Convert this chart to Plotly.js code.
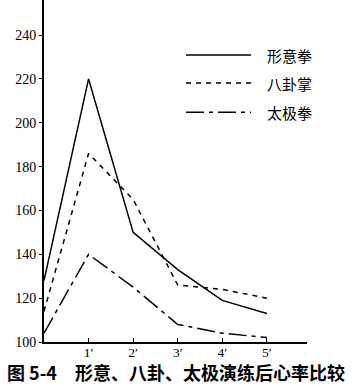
<!DOCTYPE html>
<html>
<head>
<meta charset="utf-8">
<script src="https://cdn.plot.ly/plotly-3.0.1.min.js"></script>
<style>html,body{margin:0;padding:0;background:#fff;}#chart{width:353px;height:387px;}</style>
</head>
<body>
<div id="chart"></div>
<script>
var minutes = [0, 1, 2, 3, 4, 5];
var tickLabels = ['1\u2032', '2\u2032', '3\u2032', '4\u2032', '5\u2032'];
var tickVals = [1, 2, 3, 4, 5];
var xingyi = [128, 220, 150, 133, 119, 113];
var bagua = [114, 186, 165, 126, 124, 120];
var taiji = [104, 140, 125, 108, 104, 102];
var seriesNames = ['形意拳', '八卦掌', '太极拳'];
var dashes = ['solid', '5px,5px', '18px,5px,4px,5px'];
var seriesData = [xingyi, bagua, taiji];

var traces = seriesData.map(function (vals, i) {
  return {
    x: minutes, y: vals, name: seriesNames[i], type: 'scatter', mode: 'lines',
    line: {color: '#000', width: 1.5, dash: dashes[i]}, showlegend: false
  };
});

var legendY = [0.839, 0.757, 0.672];
var shapes = [], annotations = [];
seriesNames.forEach(function (n, i) {
  shapes.push({type: 'line', xref: 'paper', yref: 'paper', x0: 0.54, x1: 0.787,
    y0: legendY[i], y1: legendY[i], line: {color: '#000', width: 1.5, dash: dashes[i]}});
  annotations.push({xref: 'paper', yref: 'paper', x: 0.84, y: legendY[i], xanchor: 'left',
    yanchor: 'middle', showarrow: false, text: n,
    font: {family: 'Noto Sans CJK SC', size: 15, color: '#000'}});
});

var layout = {
  width: 353, height: 387,
  margin: {l: 44, r: 46, t: 0, b: 45},
  paper_bgcolor: '#fff', plot_bgcolor: '#fff',
  title: {text: '<b>图 5-4\u3000形意、八卦、太极演练后心率比较</b>',
    x: 0.4986, xanchor: 'center', y: 0.0349, yanchor: 'middle', yref: 'container',
    font: {family: 'Noto Sans CJK SC', size: 18, color: '#000'}},
  xaxis: {range: [0, 5.9], showline: true, linecolor: '#000', linewidth: 2,
    showgrid: false, zeroline: false, tickvals: tickVals, ticktext: tickLabels,
    ticks: 'inside', ticklen: 4, tickcolor: '#000', ticklabelstandoff: -3,
    tickfont: {family: 'Liberation Serif', size: 13.5, color: '#000'}},
  yaxis: {range: [100, 256], showline: true, linecolor: '#000', linewidth: 2,
    showgrid: false, zeroline: false, tickvals: [100, 120, 140, 160, 180, 200, 220, 240],
    ticks: 'outside', ticklen: 3, tickcolor: '#000',
    tickfont: {family: 'Liberation Serif', size: 14, color: '#000'}},
  shapes: shapes, annotations: annotations
};
Plotly.newPlot('chart', traces, layout, {staticPlot: true, displayModeBar: false});
</script>
</body>
</html>
